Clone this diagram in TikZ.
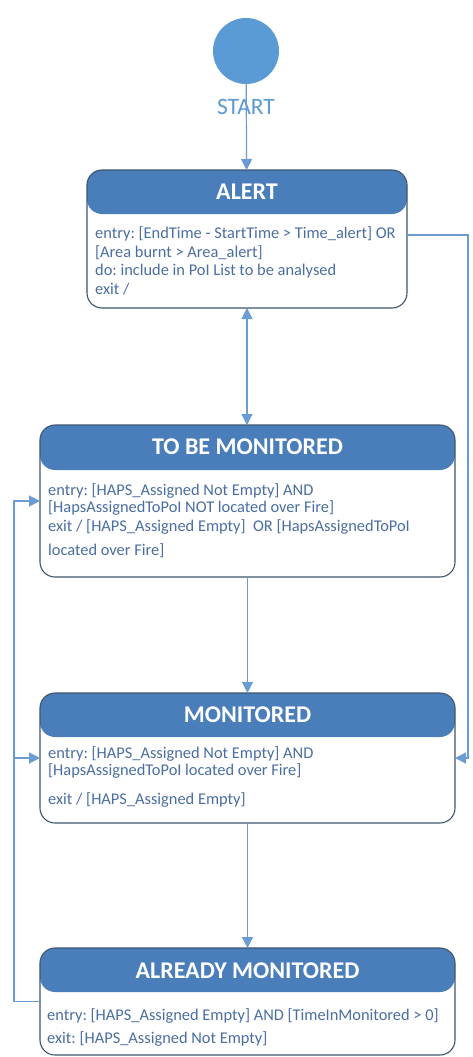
\documentclass[tikz,border=0pt]{standalone}
\usepackage{fontspec}
\setmainfont{Carlito}
\usetikzlibrary{arrows.meta}
\definecolor{hdr}{HTML}{4A7EBA}
\definecolor{bord}{HTML}{3E5670}
\definecolor{txt}{HTML}{4A6EA2}
\definecolor{lnk}{HTML}{6A9BD2}
\definecolor{startc}{HTML}{5B9BD5}
\frenchspacing
\begin{document}
\begin{tikzpicture}[x=1pt,y=-1pt,
  statebox/.style={draw=bord, line width=1.1pt, rounded corners=15pt, fill=white, inner sep=0pt, outer sep=0pt,
    path picture={\fill[hdr] (path picture bounding box.north west) rectangle ([yshift=-#1]path picture bounding box.north east);}},
  hdrtext/.style={text=white, font=\fontsize{24}{26}\selectfont\bfseries, inner sep=0pt},
  bodytext/.style={text=txt, font=\fontsize{16.4}{19}\selectfont, inner sep=0pt, anchor=base west},
  link/.style={draw=lnk, line width=1.2pt, -{Triangle[length=11pt,width=11pt]}},
]
\fill[white] (0,0) rectangle (472,1057);
\useasboundingbox (0,0) rectangle (472,1057);

% start
\node[circle, fill=startc, minimum size=66pt, inner sep=0pt] (start) at (246,51) {};
\node[text=startc, font=\fontsize{23.5}{26}\selectfont, inner sep=0pt] (startlbl) at (246,107) {START};

% states
\node[statebox=44pt, minimum width=320pt, minimum height=138pt] (alert) at (247,239) {};
\node[statebox=45pt, minimum width=415pt, minimum height=152pt] (tbm) at (247.5,501) {};
\node[statebox=44pt, minimum width=415pt, minimum height=130pt] (mon) at (247.5,758) {};
\node[statebox=44pt, minimum width=415pt, minimum height=107pt] (am) at (247.5,1001.5) {};

% headers
\node[hdrtext] (alerth) at (247,192) {ALERT};
\node[hdrtext] (tbmh) at (247.5,447) {TO BE MONITORED};
\node[hdrtext] (monh) at (247.5,715) {MONITORED};
\node[hdrtext] (amh) at (247.5,971) {ALREADY MONITORED};

% bodies
\node[bodytext] (a1) at (95,238) {entry: [EndTime - StartTime > Time\_alert] OR};
\node[bodytext] (a2) at (95,257) {[Area burnt > Area\_alert]};
\node[bodytext] (a3) at (95,275) {do: include in PoI List to be analysed};
\node[bodytext] (a4) at (95,294) {exit /};

\node[bodytext] (t1) at (48,495) {entry: [HAPS\_Assigned Not Empty] AND};
\node[bodytext] (t2) at (48,512) {[HapsAssignedToPoI NOT located over Fire]};
\node[bodytext] (t3) at (48,531) {exit / [HAPS\_Assigned Empty]\ \ OR [HapsAssignedToPoI};
\node[bodytext] (t4) at (48,555) {located over Fire]};

\node[bodytext] (m1) at (48,758) {entry: [HAPS\_Assigned Not Empty] AND};
\node[bodytext] (m2) at (48,775) {[HapsAssignedToPoI located over Fire]};
\node[bodytext] (m3) at (48,804) {exit / [HAPS\_Assigned Empty]};

\node[bodytext] (r1) at (47,1020) {entry: [HAPS\_Assigned Empty] AND [TimeInMonitored > 0]};
\node[bodytext] (r2) at (47,1043) {exit: [HAPS\_Assigned Not Empty]};

% connectors
\coordinate (lx) at (14,0);
\coordinate (rx) at (468,235);
\draw[link] (start) -- (alert);
\draw[draw=lnk, line width=1.2pt, {Triangle[length=11pt,width=11pt]}-{Triangle[length=11pt,width=11pt]}] (alert.south) -- (alert.south |- tbm.north);
\draw[link] (tbm.south) -- (tbm.south |- mon.north);
\draw[link] (mon.south) -- (mon.south |- am.north);
\draw[link] (am.west) -- (am.west -| lx) |- (tbm.west);
\draw[link] (lx |- mon.west) -- (mon.west);
\draw[link] (rx -| alert.east) -- (rx) |- (mon.east);
\end{tikzpicture}
\end{document}
